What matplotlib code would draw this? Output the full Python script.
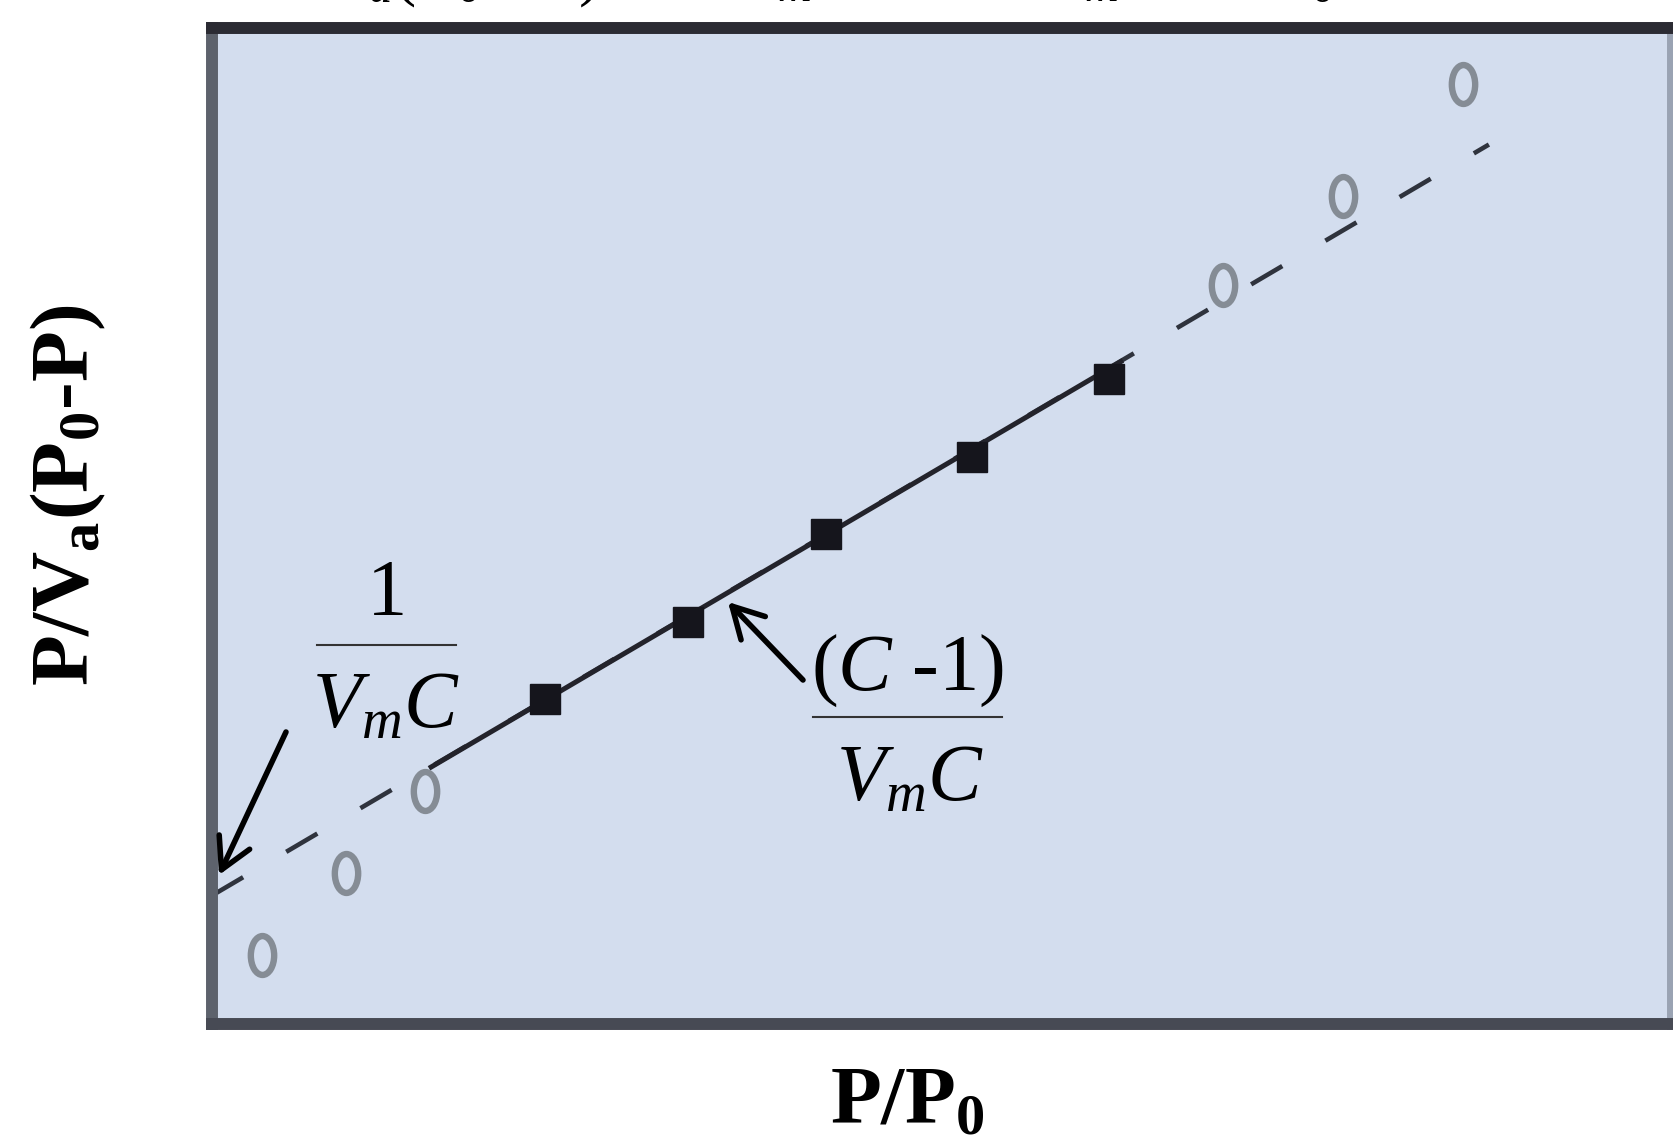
import matplotlib
matplotlib.use("Agg")
import matplotlib.pyplot as plt
from matplotlib.path import Path
from matplotlib.transforms import Affine2D
from matplotlib.lines import Line2D

# ------------------------------------
# data
# ------------------------------------
# open points, outside the linear range
open_x = [0.017, 0.046, 0.073, 0.346, 0.387, 0.428]
open_y = [0.69, 1.52, 2.34, 7.42, 8.31, 9.44]
# filled points, linear BET range
lin_x = [0.114, 0.163, 0.210, 0.260, 0.307]
lin_y = [3.26, 4.04, 4.92, 5.69, 6.48]
# straight line: extrapolated (dashed) and fitted part (solid)
ext_x = [0.0, 0.437]
ext_y = [1.29, 8.83]
fit_x = [0.075, 0.311]
fit_y = [2.58, 6.65]

plt.rcParams["font.family"] = "Liberation Serif"
plt.rcParams["mathtext.fontset"] = "custom"
plt.rcParams["mathtext.rm"] = "Liberation Serif"
plt.rcParams["mathtext.it"] = "Liberation Serif:italic"
plt.rcParams["mathtext.bf"] = "Liberation Serif:bold"
plt.rcParams["lines.scale_dashes"] = False

W, H = 1674, 1143
fig = plt.figure(figsize=(W / 100, H / 100), dpi=100)
# axes box in pixels (top-down): x 212..1673, y 28..1024
ax = fig.add_axes([212 / W, (H - 1024) / H, (1673 - 212) / W, (1024 - 28) / H])
ax.set_facecolor("#d3ddee")
ax.set_xlim(0, 0.5)
ax.set_ylim(0, 10)
ax.set_xticks([])
ax.set_yticks([])
for side, col in [("top", "#2b2b33"), ("left", "#5d626c"),
                  ("bottom", "#474a54"), ("right", "#9aa3b3")]:
    ax.spines[side].set_color(col)
    ax.spines[side].set_linewidth(8.6)

# "0"-like open marker
ring = Path.unit_circle().transformed(Affine2D().scale(0.6, 1.0))

ax.plot(ext_x, ext_y, color="#2f333d", lw=3.3, linestyle=(0, (26, 36)),
        dash_capstyle="butt", zorder=2)
ax.plot(fit_x, fit_y, color="#23232b", lw=3.6, zorder=3)
ax.plot(open_x, open_y, ls="none", marker=ring, ms=28, mfc="none",
        mec="#858c95", mew=4.6, zorder=4)
ax.plot(lin_x, lin_y, ls="none", marker="s", ms=21, color="#15151c", zorder=5)

# axis labels
fig.text(907 / W, 20 / H, r"$\mathbf{P/P_0}$", fontsize=60,
         ha="center", va="baseline")
fig.text(68 / W, (H - 495) / H, r"$\mathbf{P/V_a(P_0}$-$\mathbf{P)}$",
         fontsize=60, fontweight="bold", rotation=90, ha="center", va="center")

arrow = dict(arrowstyle="->,head_length=1.0,head_width=0.55",
             mutation_scale=22, lw=4.0, color="black", shrinkA=0, shrinkB=0)

# intercept annotation 1/(Vm C)
fig.text(387 / W, (H - 615) / H, "1", fontsize=58, ha="center", va="baseline")
fig.add_artist(Line2D([317 / W, 456 / W], [(H - 645) / H, (H - 645) / H],
                      color="#333", lw=1.5))
fig.text(386 / W, (H - 727) / H, r"$V_mC$", fontsize=58, ha="center", va="baseline")
ax.annotate("", xy=(219, H - 875), xycoords="figure pixels",
            xytext=(286, H - 732), textcoords="figure pixels", arrowprops=arrow)

# slope annotation (C-1)/(Vm C)
fig.text(907 / W, (H - 690) / H, r"($C$ -1)", fontsize=58, ha="center", va="baseline")
fig.add_artist(Line2D([813 / W, 1002 / W], [(H - 717) / H, (H - 717) / H],
                      color="#333", lw=1.5))
fig.text(910 / W, (H - 800) / H, r"$V_mC$", fontsize=58, ha="center", va="baseline")
ax.annotate("", xy=(728, H - 602), xycoords="figure pixels",
            xytext=(803, H - 680), textcoords="figure pixels", arrowprops=arrow)

# BET equation above the plot, cut by the figure edge as in the original
top = (H + 7) / H
fig.text(600 / W, top, r"$V_a(P_0 - P)$", fontsize=48, ha="right", va="baseline")
fig.text(798 / W, top, r"$V_mC$", fontsize=48, ha="center", va="baseline")
fig.text(1105 / W, top, r"$V_mC$", fontsize=48, ha="center", va="baseline")
fig.text(1334 / W, top, r"$P/P_0$", fontsize=48, ha="right", va="baseline")

fig.savefig("out.png", dpi=100)
